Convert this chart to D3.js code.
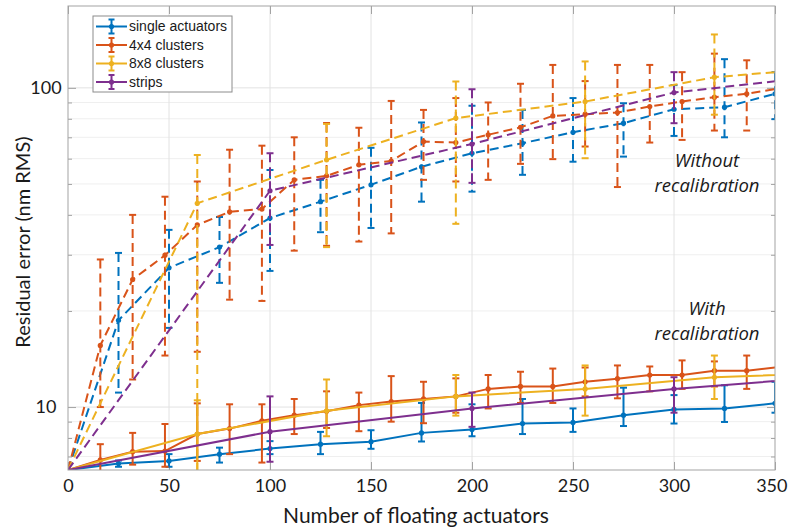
<!DOCTYPE html>
<html>
<head>
<meta charset="utf-8">
<script src="https://cdn.jsdelivr.net/npm/d3@7"></script>
<style>
  html, body { margin: 0; padding: 0; background: #fff; }
  svg { display: block; }
</style>
</head>
<body>
<div id="chart"></div>
<script>
// ---------------- DATA ----------------
const seriesNames = ["single actuators", "4x4 clusters", "8x8 clusters", "strips"];
const xTicks = [0, 50, 100, 150, 200, 250, 300, 350];
const yTickLabels = [10, 100];
const yMinorTicks = [7, 8, 9, 20, 30, 40, 50, 60, 70, 80, 90];

// single actuators
const xSingle = [0, 25, 50, 75, 100, 125, 150, 175, 200, 225, 250, 275, 300, 325, 350];
const singleWithout   = [6.35, 18.7, 27.3, 31.7, 39.1, 44.0, 49.7, 56.6, 62.4, 67.1, 72.6, 77.5, 85.7, 87.0, 95.8];
const singleWithoutHi = [6.35, 30.4, 35.9, 39.4, 55.3, 51.5, 64.9, 77.9, 87.9, 85.3, 92.9, 89.5, 102, 123, 112];
const singleWithoutLo = [6.35, 11.1, 17.7, 24.5, 26.7, 35.3, 36.4, 44.0, 47.3, 53.4, 58.7, 60.9, 70.7, 70.0, 79.8];
const singleWith   = [6.35, 6.65, 6.78, 7.12, 7.41, 7.65, 7.79, 8.3, 8.5, 8.88, 8.95, 9.43, 9.83, 9.9, 10.27];
const singleWithHi = [6.35, 6.8, 7.12, 7.46, 7.82, 8.36, 8.46, 10.3, 10.2, 10.6, 9.9, 11.5, 10.9, 11.7, 12.0];
const singleWithLo = [6.35, 6.5, 6.5, 6.7, 7.12, 7.12, 7.4, 7.8, 8.1, 8.23, 8.36, 8.72, 8.88, 8.98, 9.6];

// 4x4 clusters
const x4x4 = [0, 16, 32, 48, 64, 80, 96, 112, 128, 144, 160, 176, 192, 208, 224, 240, 256, 272, 288, 304, 320, 336, 352];
const c4Without   = [6.35, 15.6, 25.1, 29.9, 37.2, 40.9, 41.7, 51.5, 53.0, 57.4, 59.0, 67.9, 67.4, 71.3, 75.2, 81.7, 82.7, 83.7, 87.4, 90.6, 93.5, 95.8, 99.5];
const c4WithoutHi = [6.35, 29.0, 40.0, 45.6, 50.9, 64.0, 65.9, 70.0, 77.6, 75.0, 91.0, 85.3, 92.9, 90.0, 103, 118, 105, 118, 118, 112, 128, 122, 125];
const c4WithoutLo = [6.35, 10.0, 12.2, 14.5, 14.9, 21.7, 21.5, 30.9, 32.0, 33.0, 35.0, 51.5, 50.9, 51.5, 57.8, 59.8, 65.5, 48.9, 67.4, 68.7, 73.5, 73.5, 76];
const c4With   = [6.35, 6.83, 7.25, 7.28, 8.23, 8.56, 9.06, 9.43, 9.7, 10.14, 10.4, 10.6, 10.8, 11.4, 11.6, 11.6, 12.0, 12.27, 12.6, 12.6, 13.0, 13.0, 13.35];
const c4WithHi = [6.35, 7.65, 8.3, 8.85, 10.27, 10.2, 10.2, 10.6, 11.2, 11.1, 12.5, 12.0, 12.3, 12.6, 12.9, 13.2, 13.3, 13.5, 13.4, 14.0, 13.9, 14.5, 14.8];
const c4WithLo = [6.35, 6.3, 6.6, 6.5, 6.78, 7.12, 6.7, 8.23, 8.6, 8.4, 9.0, 8.9, 9.6, 9.9, 10.3, 10.3, 10.8, 10.65, 11.2, 11.4, 11.6, 11.4, 11.8];

// 8x8 clusters
const x8x8 = [0, 64, 128, 192, 256, 320, 384];
const c8Without   = [6.35, 43.5, 59.5, 80.4, 90.6, 108, 116.7];
const c8WithoutHi = [6.35, 61.6, 77.1, 104.7, 121, 147, 150];
const c8WithoutLo = [6.35, 6.3, 31.7, 37.5, 60.2, 82.4, 90];
const c8With   = [6.35, 8.23, 9.73, 10.8, 11.4, 12.4, 12.83];
const c8WithHi = [6.35, 10.5, 12.2, 12.6, 13.5, 14.5, 14.8];
const c8WithLo = [6.35, 6.3, 8.1, 9.4, 9.4, 10.6, 11.0];

// strips
const xStrips = [0, 100, 200, 300, 400];
const stripsWithout   = [6.35, 47.6, 66.7, 96.7, 113.6];
const stripsWithoutHi = [6.35, 62.4, 99, 112, 130];
const stripsWithoutLo = [6.35, 32.2, 50.4, 77.5, 90];
const stripsWith   = [6.35, 8.37, 9.9, 11.4, 12.76];
const stripsWithHi = [6.35, 10.8, 11.1, 12.4, 13.5];
const stripsWithLo = [6.35, 6.74, 8.67, 9.6, 11.0];

const colors = ["#0072BD", "#D95319", "#EDB120", "#7E2F8E"];

// ---------------- BUILD ----------------
function pack(xs, v, hi, lo) { return xs.map((xx, i) => ({ x: xx, v: v[i], hi: hi[i], lo: lo[i] })); }
const without = [
  pack(xSingle, singleWithout, singleWithoutHi, singleWithoutLo),
  pack(x4x4, c4Without, c4WithoutHi, c4WithoutLo),
  pack(x8x8, c8Without, c8WithoutHi, c8WithoutLo),
  pack(xStrips, stripsWithout, stripsWithoutHi, stripsWithoutLo)
];
const withRecal = [
  pack(xSingle, singleWith, singleWithHi, singleWithLo),
  pack(x4x4, c4With, c4WithHi, c4WithLo),
  pack(x8x8, c8With, c8WithHi, c8WithLo),
  pack(xStrips, stripsWith, stripsWithHi, stripsWithLo)
];

const W = 788, H = 529;
const L = 68, R = 775, T = 6, B = 470;
const svg = d3.select("#chart").append("svg").attr("width", W).attr("height", H);

const x = d3.scaleLinear().domain([0, 350]).range([L, R]);
const y = d3.scaleLog().domain([6.35, 180.5]).range([B, T]);

svg.append("defs").append("clipPath").attr("id", "clip")
  .append("rect").attr("x", L).attr("y", T).attr("width", R - L).attr("height", B - T);

// grid
const grid = svg.append("g");
grid.selectAll(".ym").data(yMinorTicks).join("line")
  .attr("x1", L).attr("x2", R).attr("y1", d => y(d)).attr("y2", d => y(d))
  .attr("stroke", "#efefef").attr("stroke-width", 1);
grid.selectAll(".yM").data(yTickLabels).join("line")
  .attr("x1", L).attr("x2", R).attr("y1", d => y(d)).attr("y2", d => y(d))
  .attr("stroke", "#e2e2e2").attr("stroke-width", 1);
grid.selectAll(".xM").data(xTicks.slice(1, -1)).join("line")
  .attr("x1", d => x(d)).attr("x2", d => x(d)).attr("y1", T).attr("y2", B)
  .attr("stroke", "#e2e2e2").attr("stroke-width", 1);

// axes
const axisColor = "#a3a3a3";
const labelFont = "Lato, 'Open Sans', sans-serif";
function styleAxis(g) {
  g.select(".domain").remove();
  g.selectAll(".tick line").attr("stroke", axisColor);
  g.selectAll("text").attr("fill", "#1a1a1a");
}
const xb = svg.append("g").attr("transform", `translate(0,${B})`)
  .call(d3.axisBottom(x).tickValues(xTicks).tickSize(-8).tickPadding(9).tickFormat(d3.format("d")))
  .call(styleAxis);
xb.selectAll("text").style("font-family", labelFont).style("font-size", "18px");
xb.selectAll("text").filter(d => d === 350).attr("text-anchor", "end").attr("x", 12);
svg.append("g").attr("transform", `translate(0,${T})`)
  .call(d3.axisTop(x).tickValues(xTicks).tickSize(-8).tickFormat(""))
  .call(styleAxis);
const yl = svg.append("g").attr("transform", `translate(${L},0)`)
  .call(d3.axisLeft(y).tickValues(yTickLabels).tickSize(-8).tickPadding(14).tickFormat(d3.format("d")))
  .call(styleAxis);
yl.selectAll("text").attr("x", -22).attr("text-anchor", "middle")
  .style("font-family", labelFont).style("font-size", "18px");
svg.append("g").attr("transform", `translate(${L},0)`)
  .call(d3.axisLeft(y).tickValues(yMinorTicks).tickSize(-4).tickFormat(""))
  .call(styleAxis);
svg.append("g").attr("transform", `translate(${R},0)`)
  .call(d3.axisRight(y).tickValues(yTickLabels).tickSize(-8).tickFormat(""))
  .call(styleAxis);
svg.append("g").attr("transform", `translate(${R},0)`)
  .call(d3.axisRight(y).tickValues(yMinorTicks).tickSize(-4).tickFormat(""))
  .call(styleAxis);

// data
const plot = svg.append("g").attr("clip-path", "url(#clip)");
const line = d3.line().x(d => x(d.x)).y(d => y(d.v));
const capW = 3.5;

function drawSeries(data, color, dashed) {
  const g = plot.append("g");
  const dash = dashed ? "9,5" : null;
  g.append("path").datum(data).attr("d", line)
    .attr("fill", "none").attr("stroke", color).attr("stroke-width", 2)
    .attr("stroke-dasharray", dash);
  const pts = data.filter(d => d.x > 0);
  g.selectAll(".eb").data(pts).join("line")
    .attr("x1", d => x(d.x)).attr("x2", d => x(d.x))
    .attr("y1", d => y(d.hi)).attr("y2", d => y(Math.max(d.lo, 6.0)))
    .attr("stroke", color).attr("stroke-width", 2).attr("stroke-dasharray", dash);
  g.selectAll(".ct").data(pts).join("line")
    .attr("x1", d => x(d.x) - capW).attr("x2", d => x(d.x) + capW)
    .attr("y1", d => y(d.hi)).attr("y2", d => y(d.hi))
    .attr("stroke", color).attr("stroke-width", 2);
  g.selectAll(".cb").data(pts).join("line")
    .attr("x1", d => x(d.x) - capW).attr("x2", d => x(d.x) + capW)
    .attr("y1", d => y(Math.max(d.lo, 6.0))).attr("y2", d => y(Math.max(d.lo, 6.0)))
    .attr("stroke", color).attr("stroke-width", 2);
  g.selectAll(".mk").data(data).join("circle")
    .attr("cx", d => x(d.x)).attr("cy", d => y(d.v)).attr("r", 2.6)
    .attr("fill", color);
}
without.forEach((s, i) => drawSeries(s, colors[i], true));
withRecal.forEach((s, i) => drawSeries(s, colors[i], false));

// box
svg.append("rect").attr("x", L).attr("y", T).attr("width", R - L).attr("height", B - T)
  .attr("fill", "none").attr("stroke", axisColor).attr("stroke-width", 1);

// axis titles
svg.append("text").attr("x", 416).attr("y", 523).attr("text-anchor", "middle")
  .style("font-family", labelFont).style("font-size", "21px").attr("fill", "#1a1a1a")
  .text("Number of floating actuators");
svg.append("text").attr("transform", "translate(30,242) rotate(-90)").attr("text-anchor", "middle")
  .style("font-family", labelFont).style("font-size", "20px").attr("fill", "#1a1a1a")
  .text("Residual error (nm RMS)");

// annotations
const ann = [["Without", 707, 167], ["recalibration", 707, 192], ["With", 707, 315], ["recalibration", 707, 340]];
svg.selectAll(".ann").data(ann).join("text")
  .attr("x", d => d[1]).attr("y", d => d[2]).attr("text-anchor", "middle")
  .style("font-family", "'Open Sans', sans-serif").style("font-style", "italic").style("font-size", "18.5px")
  .attr("fill", "#1a1a1a").text(d => d[0]);

// legend
const lg = svg.append("g");
lg.append("rect").attr("x", 93).attr("y", 16).attr("width", 139).attr("height", 76)
  .attr("fill", "#fff").attr("stroke", "#8c8c8c").attr("stroke-width", 1);
const rows = lg.selectAll(".row").data(seriesNames).join("g")
  .attr("transform", (d, i) => `translate(0,${26.5 + i * 18.5})`);
rows.append("line").attr("x1", 96).attr("x2", 127).attr("y1", 0).attr("y2", 0)
  .attr("stroke", (d, i) => colors[i]).attr("stroke-width", 2);
rows.append("line").attr("x1", 111.5).attr("x2", 111.5).attr("y1", -7).attr("y2", 7)
  .attr("stroke", (d, i) => colors[i]).attr("stroke-width", 2);
rows.append("line").attr("x1", 108.5).attr("x2", 114.5).attr("y1", -7).attr("y2", -7)
  .attr("stroke", (d, i) => colors[i]).attr("stroke-width", 2);
rows.append("line").attr("x1", 108.5).attr("x2", 114.5).attr("y1", 7).attr("y2", 7)
  .attr("stroke", (d, i) => colors[i]).attr("stroke-width", 2);
rows.append("circle").attr("cx", 111.5).attr("cy", 0).attr("r", 2.6).attr("fill", (d, i) => colors[i]);
rows.append("text").attr("x", 129).attr("y", 0).attr("dy", "0.35em")
  .style("font-family", "'Liberation Sans', Arial, sans-serif").style("font-size", "14px")
  .attr("fill", "#1a1a1a").text(d => d);
</script>
</body>
</html>
